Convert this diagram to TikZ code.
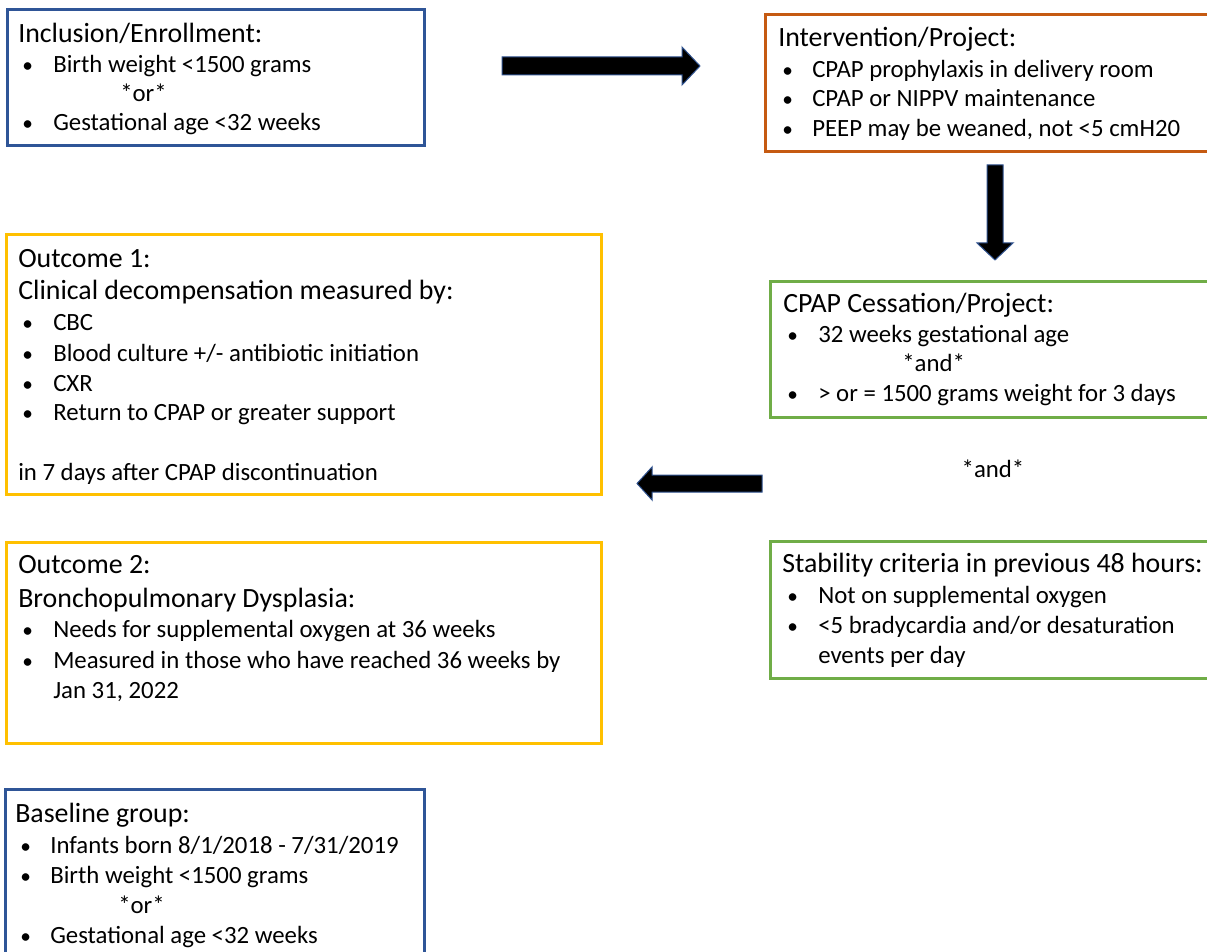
\documentclass[tikz,border=0pt]{standalone}
\usepackage{fontspec}
\setmainfont{Carlito}
\definecolor{cblue}{HTML}{2F5597}
\definecolor{corange}{HTML}{C55A11}
\definecolor{cyellow}{HTML}{FFC000}
\definecolor{cgreen}{HTML}{70AD47}
\definecolor{cedge}{HTML}{2F528F}
\begin{document}
\begin{tikzpicture}[x=0.75pt,y=-0.75pt,
  ttl/.style={anchor=base west, inner sep=0pt, font=\fontsize{20.9}{25}\selectfont},
  bul/.style={anchor=base west, inner sep=0pt, font=\fontsize{18.6}{22}\selectfont},
  dot/.style={anchor=base west, inner sep=0pt, font=\fontsize{16}{20}\selectfont},
  bx/.style={line width=2.25pt},
  blockarrow/.style={fill=black, draw=cedge, line width=0.75pt, line join=miter}]
\useasboundingbox (0,0) rectangle (1207,952);
% boxes
\draw[bx, cblue]   (7,10) rectangle (424,146);
\draw[bx, corange] (765,15) rectangle (1212,152);
\draw[bx, cyellow] (6,235) rectangle (601,494);
\draw[bx, cgreen]  (770,282) rectangle (1212,417);
\draw[bx, cgreen]  (770,541) rectangle (1212,678);
\draw[bx, cyellow] (6,542) rectangle (601,743);
\draw[bx, cblue]   (5,789) rectangle (424,965);
% Inclusion
\node[ttl] (incT) at (18,43) {Inclusion/Enrollment:};
\node[dot] (incd1) at (22,73) {\textbullet};
\node[bul] (inc1) at (53,73) {Birth weight <1500 grams};
\node[bul] (incor) at (120,102) {*or*};
\node[dot] (incd2) at (22,131) {\textbullet};
\node[bul] (inc2) at (53,131) {Gestational age <32 weeks};
% Intervention
\node[ttl] (intT) at (778,47) {Intervention/Project:};
\node[dot] (intd1) at (782,78) {\textbullet};
\node[bul] (int1) at (812,78) {CPAP prophylaxis in delivery room};
\node[dot] (intd2) at (782,107) {\textbullet};
\node[bul] (int2) at (812,107) {CPAP or NIPPV maintenance};
\node[dot] (intd3) at (782,137) {\textbullet};
\node[bul] (int3) at (812,137) {PEEP may be weaned, not <5 cmH20};
% Outcome 1
\node[ttl] (o1T) at (18,268) {Outcome 1:};
\node[ttl] (o1S) at (18,300) {Clinical decompensation measured by:};
\node[dot] (o1d1) at (22,331) {\textbullet};
\node[bul] (o11) at (53,331) {CBC};
\node[dot] (o1d2) at (22,362) {\textbullet};
\node[bul] (o12) at (53,362) {Blood culture +/- antibiotic initiation};
\node[dot] (o1d3) at (22,392) {\textbullet};
\node[bul] (o13) at (53,392) {CXR};
\node[dot] (o1d4) at (22,421) {\textbullet};
\node[bul] (o14) at (53,421) {Return to CPAP or greater support};
\node[bul] (o1E) at (18,480) {in 7 days after CPAP discontinuation};
% CPAP Cessation
\node[ttl] (cesT) at (783,313) {CPAP Cessation/Project:};
\node[dot] (cesd1) at (787,343) {\textbullet};
\node[bul] (ces1) at (818,343) {32 weeks gestational age};
\node[bul] (cesand) at (902,372) {*and*};
\node[dot] (cesd2) at (787,402) {\textbullet};
\node[bul] (ces2) at (818,402) {> or = 1500 grams weight for 3 days};
% middle and
\node[bul, anchor=base] (mand) at (993,477) {*and*};
% Stability
\node[ttl] (stT) at (782,572) {Stability criteria in previous 48 hours:};
\node[dot] (std1) at (787,603) {\textbullet};
\node[bul] (st1) at (818,603) {Not on supplemental oxygen};
\node[dot] (std2) at (787,633) {\textbullet};
\node[bul] (st2) at (818,633) {<5 bradycardia and/or desaturation};
\node[bul] (st3) at (818,663) {events per day};
% Outcome 2
\node[ttl] (o2T) at (18,573) {Outcome 2:};
\node[ttl] (o2S) at (18,607) {Bronchopulmonary Dysplasia:};
\node[dot] (o2d1) at (22,637) {\textbullet};
\node[bul] (o21) at (53,637) {Needs for supplemental oxygen at 36 weeks};
\node[dot] (o2d2) at (22,668) {\textbullet};
\node[bul] (o22) at (53,668) {Measured in those who have reached 36 weeks by};
\node[bul] (o23) at (53,698) {Jan 31, 2022};
% Baseline
\node[ttl] (bT) at (15,822) {Baseline group:};
\node[dot] (bd1) at (20,853) {\textbullet};
\node[bul] (b1) at (50,853) {Infants born 8/1/2018 - 7/31/2019};
\node[dot] (bd2) at (20,883) {\textbullet};
\node[bul] (b2) at (50,883) {Birth weight <1500 grams};
\node[bul] (bor) at (118,913) {*or*};
\node[dot] (bd3) at (20,943) {\textbullet};
\node[bul] (b3) at (50,943) {Gestational age <32 weeks};
% block arrows
\draw[blockarrow] (502,57) -- (682,57) -- (682,47) -- (700,66) -- (682,85) -- (682,75) -- (502,75) -- cycle;
\draw[blockarrow] (987,165) -- (1003,165) -- (1003,243) -- (1013,243) -- (995,260) -- (977,243) -- (987,243) -- cycle;
\draw[blockarrow] (762,475) -- (652,475) -- (652,467) -- (637,483.5) -- (652,500) -- (652,492) -- (762,492) -- cycle;
\end{tikzpicture}
\end{document}
